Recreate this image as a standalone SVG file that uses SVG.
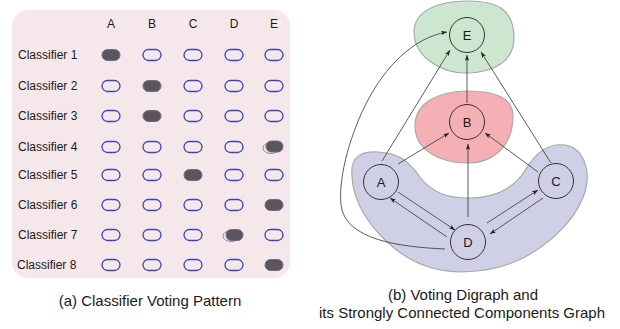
<svg xmlns="http://www.w3.org/2000/svg" width="620" height="329" viewBox="0 0 620 329">
<defs>
<style>
text{font-family:"Liberation Sans",Arial,sans-serif;fill:#1a1a1a}
.hdr{font-size:12px;text-anchor:middle}
.lbl{font-size:12px}
.ov{fill:none;stroke:#3a46b4;stroke-width:1.3}
.vote{fill:#5c565a;stroke:#6a6a9a;stroke-width:1}
.scr{fill:none;stroke:#777;stroke-width:0.8}
.blob{stroke:#a9a9a9;stroke-width:1.2}
.node circle{fill:none;stroke:#333;stroke-width:1}
.node text{font-size:13px;text-anchor:middle}
.edge{fill:none;stroke:#333;stroke-width:0.8;marker-end:url(#ah)}
.cap{font-size:15px;text-anchor:middle}
</style>
<marker id="ah" viewBox="0 0 8 6" refX="8" refY="3" markerWidth="6" markerHeight="4.5" markerUnits="userSpaceOnUse" orient="auto">
<path d="M0,0 L8,3 L0,6 L2,3 Z" fill="#222"/>
</marker>
</defs>

<g id="voting-table">
<rect x="12" y="10" width="278" height="268" rx="16" fill="#f6e7ea"/>
<text class="hdr" x="111" y="28">A</text>
<text class="hdr" x="152" y="28">B</text>
<text class="hdr" x="193" y="28">C</text>
<text class="hdr" x="234" y="28">D</text>
<text class="hdr" x="274" y="28">E</text>
<text class="lbl" x="18" y="59">Classifier 1</text>
<text class="lbl" x="18" y="90">Classifier 2</text>
<text class="lbl" x="18" y="120">Classifier 3</text>
<text class="lbl" x="18" y="151">Classifier 4</text>
<text class="lbl" x="18" y="179">Classifier 5</text>
<text class="lbl" x="18" y="209">Classifier 6</text>
<text class="lbl" x="18" y="239">Classifier 7</text>
<text class="lbl" x="17" y="269">Classifier 8</text>
<!-- row 1 -->
<rect class="vote" x="102" y="49.5" width="18" height="11" rx="5.5"/>
<rect class="ov" x="143" y="49.5" width="18" height="11" rx="5.5"/>
<rect class="ov" x="184" y="49.5" width="18" height="11" rx="5.5"/>
<rect class="ov" x="225" y="49.5" width="18" height="11" rx="5.5"/>
<rect class="ov" x="265" y="49.5" width="18" height="11" rx="5.5"/>
<!-- row 2 -->
<rect class="ov" x="102" y="80.5" width="18" height="11" rx="5.5"/>
<rect class="vote" x="143" y="80.5" width="18" height="11" rx="5.5"/>
<rect class="ov" x="184" y="80.5" width="18" height="11" rx="5.5"/>
<rect class="ov" x="225" y="80.5" width="18" height="11" rx="5.5"/>
<rect class="ov" x="265" y="80.5" width="18" height="11" rx="5.5"/>
<!-- row 3 -->
<rect class="ov" x="102" y="110.5" width="18" height="11" rx="5.5"/>
<rect class="vote" x="143" y="110.5" width="18" height="11" rx="5.5"/>
<rect class="ov" x="184" y="110.5" width="18" height="11" rx="5.5"/>
<rect class="ov" x="225" y="110.5" width="18" height="11" rx="5.5"/>
<rect class="ov" x="265" y="110.5" width="18" height="11" rx="5.5"/>
<!-- row 4 -->
<rect class="ov" x="102" y="141.5" width="18" height="11" rx="5.5"/>
<rect class="ov" x="143" y="141.5" width="18" height="11" rx="5.5"/>
<rect class="ov" x="184" y="141.5" width="18" height="11" rx="5.5"/>
<rect class="ov" x="225" y="141.5" width="18" height="11" rx="5.5"/>
<ellipse class="scr" cx="271" cy="148" rx="8" ry="5.5"/>
<rect class="vote" x="266" y="141" width="17" height="11" rx="5.5"/>
<!-- row 5 -->
<rect class="ov" x="102" y="169.5" width="18" height="11" rx="5.5"/>
<rect class="ov" x="143" y="169.5" width="18" height="11" rx="5.5"/>
<rect class="vote" x="184" y="169.5" width="18" height="11" rx="5.5"/>
<rect class="ov" x="225" y="169.5" width="18" height="11" rx="5.5"/>
<rect class="ov" x="265" y="169.5" width="18" height="11" rx="5.5"/>
<!-- row 6 -->
<rect class="ov" x="102" y="199.5" width="18" height="11" rx="5.5"/>
<rect class="ov" x="143" y="199.5" width="18" height="11" rx="5.5"/>
<rect class="ov" x="184" y="199.5" width="18" height="11" rx="5.5"/>
<rect class="ov" x="225" y="199.5" width="18" height="11" rx="5.5"/>
<rect class="vote" x="265" y="199.5" width="18" height="11" rx="5.5"/>
<!-- row 7 -->
<rect class="ov" x="102" y="229.5" width="18" height="11" rx="5.5"/>
<rect class="ov" x="143" y="229.5" width="18" height="11" rx="5.5"/>
<rect class="ov" x="184" y="229.5" width="18" height="11" rx="5.5"/>
<ellipse class="scr" cx="231" cy="236" rx="8" ry="5.5"/>
<rect class="vote" x="226" y="229.5" width="17" height="11" rx="5.5"/>
<rect class="ov" x="265" y="229.5" width="18" height="11" rx="5.5"/>
<!-- row 8 -->
<rect class="ov" x="102" y="259.5" width="18" height="11" rx="5.5"/>
<rect class="ov" x="143" y="259.5" width="18" height="11" rx="5.5"/>
<rect class="ov" x="184" y="259.5" width="18" height="11" rx="5.5"/>
<rect class="ov" x="225" y="259.5" width="18" height="11" rx="5.5"/>
<rect class="vote" x="265" y="259.5" width="18" height="11" rx="5.5"/>
</g>

<g id="components">
<path class="blob" fill="#cde6cf" d="M414 32 C414 10,440 1,468 1 C498 1,514 10,514 38 C514 62,492 73,466 73 C440 73,414 56,414 32 Z"/>
<path class="blob" fill="#f4b0b4" d="M415 126 C415 102,440 91,468 91 C496 91,514 98,513 118 C512 146,494 163,467 163 C440 163,415 150,415 126 Z"/>
<path class="blob" fill="#cfd0e6" d="M352 176 C350 156,362 151,378 152 C398 153,408 160,420 177 C432 193,448 198,468 198 C494 198,512 190,524 172 C536 152,548 143,565 145 C584 148,590 170,586 188 C580 214,556 240,525 257 C498 271,462 276,432 268 C396 258,354 218,352 176 Z"/>
</g>

<g id="connectors">
<path class="edge" d="M398 164 L449 133"/>
<path class="edge" d="M538 172 L485 133"/>
<path class="edge" d="M468 217 L468 144"/>
<path class="edge" d="M467 103 L467 55"/>
<path class="edge" d="M382 161 L450 50"/>
<path class="edge" d="M551 163 L481 52"/>
<path class="edge" d="M445 249 C400 247,345 240,341 205 C338 175,352 130,368 100 C385 68,412 38,447 32"/>
<path class="edge" d="M398 192 L455 230"/>
<path class="edge" d="M447 237 L390 198"/>
<path class="edge" d="M487 223 L538 190"/>
<path class="edge" d="M543 198 L490 234"/>
</g>

<g id="node-E" class="node"><circle cx="467" cy="35" r="17.5"/><text x="467" y="40">E</text></g>
<g id="node-B" class="node"><circle cx="467" cy="122" r="17.5"/><text x="467" y="127">B</text></g>
<g id="node-A" class="node"><circle cx="381" cy="182" r="17.5"/><text x="381" y="187">A</text></g>
<g id="node-C" class="node"><circle cx="556" cy="181" r="17.5"/><text x="556" y="186">C</text></g>
<g id="node-D" class="node"><circle cx="468" cy="242" r="17.5"/><text x="468" y="247">D</text></g>

<g id="captions">
<text class="cap" x="150" y="306">(a) Classifier Voting Pattern</text>
<text class="cap" x="463" y="300">(b) Voting Digraph and</text>
<text class="cap" x="462" y="318">its Strongly Connected Components Graph</text>
</g>
</svg>
